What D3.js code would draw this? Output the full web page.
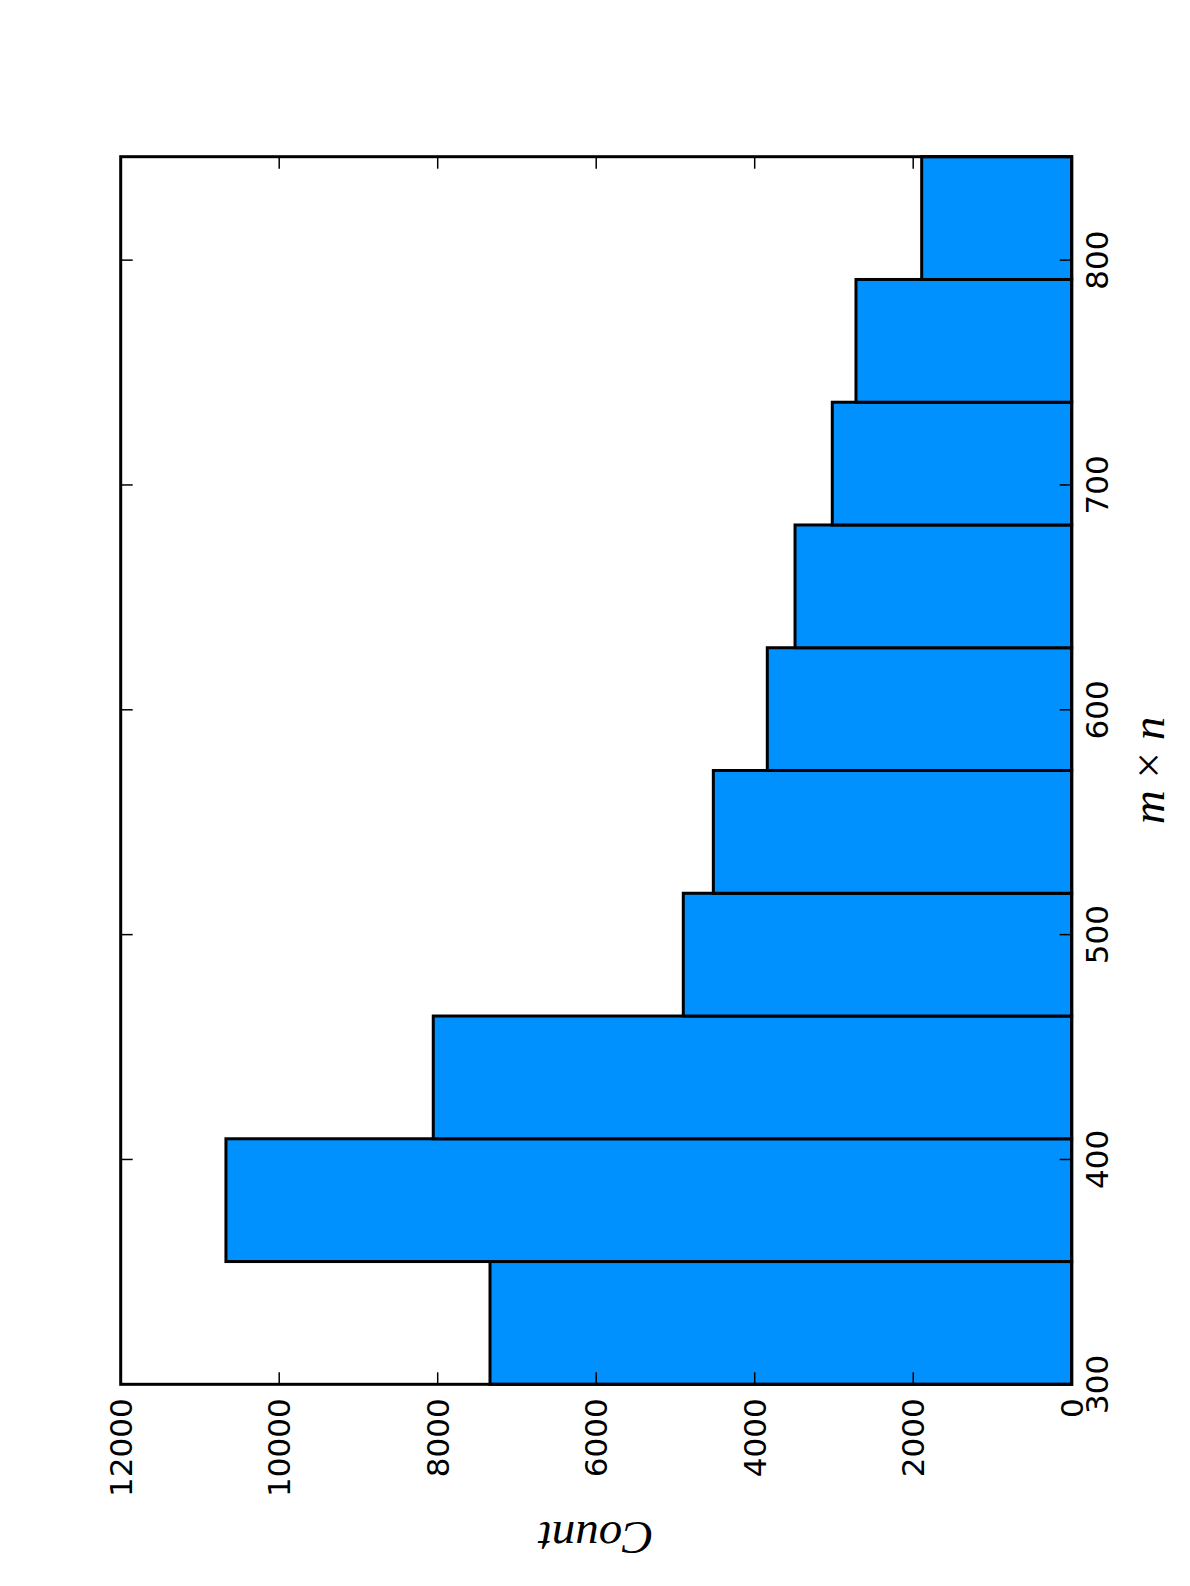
<!DOCTYPE html>
<html lang="en">
<head>
<meta charset="utf-8">
<title>Histogram of m x n</title>
<script src="https://d3js.org/d3.v7.min.js"></script>
<style>
    body { margin: 0; background: white; }
    svg { display: block; }
    .tick-label { font-family: "DejaVu Sans", sans-serif; font-size: 31px; fill: #000; }
    .axis-label { font-family: "Liberation Serif", "DejaVu Serif", serif; font-size: 47px; fill: #000; }
</style>
</head>
<body>
<div id="my_dataviz"></div>

<script>
    // histogram data (m x n bins and counts)
    var binEdges = [300, 354.6, 409.2, 463.8, 518.4, 573, 627.6, 682.2, 736.8, 791.4, 846];
    var counts = [7340, 10672, 8056, 4901, 4522, 3841, 3491, 3021, 2722, 1893];
    var xTicks = [300, 400, 500, 600, 700, 800];
    var yTicks = [0, 2000, 4000, 6000, 8000, 10000, 12000];

    // the whole figure is turned a quarter turn counter-clockwise
    var pageW = 1190, pageH = 1586;
    var origin = {x: 120.7, y: 1384.3};
    var width = 1227.6,   // length of the m x n axis
        height = 951;     // length of the Count axis

    var svg = d3.select("#my_dataviz")
      .append("svg")
        .attr("width", pageW)
        .attr("height", pageH);

    var g = svg.append("g")
        .attr("transform", "translate(" + origin.x + "," + origin.y + ") rotate(-90)");

    var x = d3.scaleLinear()
      .domain([binEdges[0], binEdges[binEdges.length - 1]])
      .range([0, width]);

    var y = d3.scaleLinear()
      .domain([0, 12000])
      .range([height, 0]);

    var bins = counts.map(function(c, i) {
        return {x0: binEdges[i], x1: binEdges[i + 1], count: c};
    });

    // bars
    g.selectAll("rect.bar")
      .data(bins)
      .enter()
      .append("rect")
        .attr("class", "bar")
        .attr("x", function(d) { return x(d.x0); })
        .attr("y", function(d) { return y(d.count); })
        .attr("width", function(d) { return x(d.x1) - x(d.x0); })
        .attr("height", function(d) { return height - y(d.count); })
        .attr("fill", "#0091ff")
        .attr("stroke", "#000")
        .attr("stroke-width", 3);

    // inward ticks on all four sides
    var tickLen = 12;
    xTicks.forEach(function(t) {
        g.append("line")
          .attr("x1", x(t)).attr("x2", x(t))
          .attr("y1", height).attr("y2", height - tickLen)
          .attr("stroke", "#000").attr("stroke-width", 1.5);
        g.append("line")
          .attr("x1", x(t)).attr("x2", x(t))
          .attr("y1", 0).attr("y2", tickLen)
          .attr("stroke", "#000").attr("stroke-width", 1.5);
        g.append("text")
          .attr("class", "tick-label")
          .attr("x", x(t))
          .attr("y", height + 36)
          .attr("text-anchor", "middle")
          .text(t);
    });

    yTicks.forEach(function(t) {
        g.append("line")
          .attr("x1", 0).attr("x2", tickLen)
          .attr("y1", y(t)).attr("y2", y(t))
          .attr("stroke", "#000").attr("stroke-width", 1.5);
        g.append("line")
          .attr("x1", width).attr("x2", width - tickLen)
          .attr("y1", y(t)).attr("y2", y(t))
          .attr("stroke", "#000").attr("stroke-width", 1.5);
        g.append("text")
          .attr("class", "tick-label")
          .attr("x", -14)
          .attr("y", y(t))
          .attr("dy", "0.36em")
          .attr("text-anchor", "end")
          .text(t);
    });

    // frame
    g.append("rect")
      .attr("x", 0).attr("y", 0)
      .attr("width", width).attr("height", height)
      .attr("fill", "none")
      .attr("stroke", "#000")
      .attr("stroke-width", 3);

    // axis labels
    var xl = g.append("text")
      .attr("class", "axis-label")
      .attr("x", width / 2)
      .attr("y", height + 92)
      .attr("text-anchor", "middle");
    xl.append("tspan").style("font-style", "italic").text("m");
    xl.append("tspan").text(" \u00d7 ");
    xl.append("tspan").style("font-style", "italic").text("n");

    g.append("text")
      .attr("class", "axis-label")
      .attr("transform", "translate(" + (-152) + "," + (height / 2) + ") rotate(-90)")
      .attr("text-anchor", "middle")
      .attr("dy", "0.3em")
      .style("font-style", "italic")
      .text("Count");
</script>
</body>
</html>
